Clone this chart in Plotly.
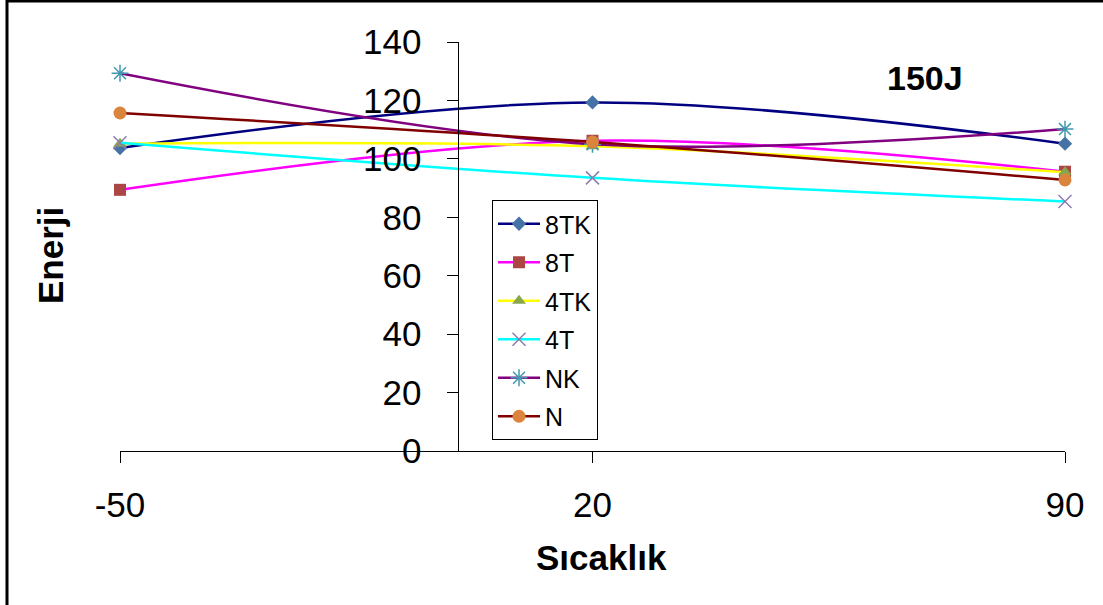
import plotly.graph_objects as go

# Test temperatures (°C) and absorbed energy per sample type
sicaklik = [-50, 20, 90]
seri_adlari = ["8TK", "8T", "4TK", "4T", "NK", "N"]
enerji_8TK = [103.7, 119.3, 105.2]
enerji_8T = [89.4, 106.2, 95.6]
enerji_4TK = [105.2, 104.3, 95.4]
enerji_4T = [105.5, 93.5, 85.4]
enerji_NK = [129.3, 105.0, 110.2]
enerji_N = [115.7, 105.8, 92.8]
y_tick_vals = [0, 20, 40, 60, 80, 100, 120, 140]

seriler = [enerji_8TK, enerji_8T, enerji_4TK, enerji_4T, enerji_NK, enerji_N]
cizgi_renk = ["#000080", "#FF00FF", "#FFFF00", "#00FFFF", "#800080", "#800000"]
isaret_renk = ["#4572A7", "#AA4643", "#89A54E", "#8E7BB0", "#4198AF", "#DB843D"]
isaret_tip = ["diamond", "square", "triangle-up", "x-thin-open", "asterisk-open", "circle"]
isaret_boy = [11, 12, 12, 13, 14, 13]

FONT = "Arial, 'Liberation Sans', sans-serif"

# plot area in pixels (for placing decorations outside the axes)
W, H = 1103, 605
L, R, T, B = 120, 38, 42, 154


def px_x(px):
    return (px - L) / (W - L - R)


def px_y(py):
    return (H - B - py) / (H - T - B)


fig = go.Figure()
for ad, deger, lc, mc, sym, sz in zip(seri_adlari, seriler, cizgi_renk,
                                       isaret_renk, isaret_tip, isaret_boy):
    marker = dict(symbol=sym, size=sz, color=mc)
    if sym.endswith("-open"):
        marker["line"] = dict(color=mc, width=1.5)
    else:
        marker["line"] = dict(width=0)
    fig.add_trace(go.Scatter(
        x=sicaklik, y=deger, name=ad, mode="lines+markers",
        line=dict(color=lc, width=2.5, shape="spline", smoothing=1.0),
        marker=marker, legendgroup=ad, cliponaxis=False,
    ))

fig.update_layout(
    width=W, height=H,
    margin=dict(l=L, r=R, t=T, b=B),
    paper_bgcolor="white", plot_bgcolor="white",
    font=dict(family=FONT, color="black"),
    showlegend=True,
    legend=dict(
        x=px_x(492), y=px_y(200), xanchor="left", yanchor="top",
        bgcolor="white", bordercolor="black", borderwidth=1,
        font=dict(size=25, family=FONT, color="black"),
        traceorder="grouped", tracegroupgap=3,
        itemwidth=42,
    ),
    xaxis=dict(
        range=[-50, 90], tickvals=sicaklik, ticktext=[str(v) for v in sicaklik],
        showgrid=False, zeroline=False, showline=True, linecolor="black", linewidth=1,
        ticks="outside", ticklen=11, tickcolor="black", tickwidth=1,
        tickfont=dict(size=35, family=FONT), ticklabelstandoff=12,
    ),
    yaxis=dict(
        range=[0, 140], tickvals=y_tick_vals,
        showgrid=False, zeroline=False, showline=True, linecolor="black", linewidth=1,
        anchor="free", position=50 / 140,
        ticks="outside", ticklen=11, tickcolor="black", tickwidth=1,
        tickfont=dict(size=35, family=FONT), ticklabelstandoff=18,
    ),
    annotations=[
        dict(text="<b>Sıcaklık</b>", xref="paper", yref="paper",
             x=px_x(601), y=px_y(557), xanchor="center", yanchor="middle",
             showarrow=False, font=dict(size=35, family=FONT)),
        dict(text="<b>Enerji</b>", xref="paper", yref="paper", textangle=-90,
             x=px_x(50), y=px_y(256), xanchor="center", yanchor="middle",
             showarrow=False, font=dict(size=35, family=FONT)),
        dict(text="<b>150J</b>", xref="paper", yref="paper",
             x=px_x(925), y=px_y(78), xanchor="center", yanchor="middle",
             showarrow=False, font=dict(size=34, family=FONT)),
    ],
    shapes=[
        dict(type="line", xref="paper", yref="paper", layer="above",
             x0=px_x(7), x1=px_x(W + 5), y0=px_y(1), y1=px_y(1),
             line=dict(color="black", width=3)),
        dict(type="line", xref="paper", yref="paper", layer="above",
             x0=px_x(7), x1=px_x(7), y0=px_y(0), y1=px_y(H + 5),
             line=dict(color="black", width=3)),
    ],
)

fig.write_html("out.html")
